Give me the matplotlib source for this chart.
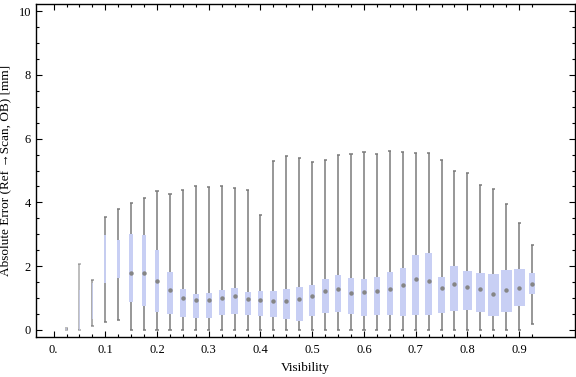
import numpy as np
import matplotlib
matplotlib.use("Agg")
import matplotlib.pyplot as plt

# Box-whisker summary per visibility bin
visibility = [0.025 * k for k in range(1, 38)]
whisker_lo = [0, 0, 0.13, 0.26, 0.31, 0, 0, 0, 0, 0,
              0, 0, 0, 0, 0, 0, 0, 0, 0, 0,
              0, 0, 0, 0, 0, 0, 0, 0, 0, 0,
              0, 0, 0, 0, 0, 0, 0.18]
q1 = [0.0, 0.0, 0.34, 1.48, 1.62, 0.89, 0.76, 0.57, 0.50, 0.42,
      0.39, 0.39, 0.48, 0.50, 0.48, 0.45, 0.41, 0.34, 0.29, 0.45,
      0.53, 0.56, 0.51, 0.45, 0.48, 0.48, 0.45, 0.48, 0.48, 0.54,
      0.60, 0.63, 0.56, 0.45, 0.56, 0.76, 1.14]
median = [0.02, 0.6, 0.9, 2.2, 2.3, 1.80, 1.78, 1.55, 1.24, 1.01,
          0.94, 0.95, 1.01, 1.07, 0.97, 0.93, 0.92, 0.92, 0.97, 1.08,
          1.23, 1.27, 1.15, 1.19, 1.22, 1.29, 1.41, 1.59, 1.53, 1.32,
          1.45, 1.36, 1.27, 1.12, 1.25, 1.33, 1.44]
q3 = [0.05, 1.25, 1.47, 2.98, 2.82, 3.00, 2.97, 2.51, 1.82, 1.29,
      1.13, 1.16, 1.25, 1.33, 1.19, 1.22, 1.22, 1.29, 1.35, 1.41,
      1.60, 1.72, 1.63, 1.60, 1.66, 1.82, 1.94, 2.35, 2.41, 1.66,
      2.00, 1.85, 1.79, 1.76, 1.88, 1.91, 1.78]
whisker_hi = [0.07, 2.07, 1.57, 3.54, 3.78, 3.99, 4.13, 4.35, 4.26, 4.38,
              4.51, 4.47, 4.51, 4.46, 4.38, 3.60, 5.29, 5.44, 5.38, 5.26,
              5.32, 5.48, 5.51, 5.57, 5.51, 5.60, 5.57, 5.54, 5.54, 5.32,
              4.97, 4.91, 4.55, 4.41, 3.95, 3.34, 2.65]
# relative sample weight of each bin (sets box width / opacity)
weight = [1, 1, 1.5, 2, 2.7, 4, 4.3, 4, 5.3, 6,
          6.5, 6, 6.3, 6.5, 6, 6, 6.3, 7.3, 7.5, 6.3,
          7, 6.3, 6, 6.3, 6.3, 6.3, 6, 7, 7, 7,
          8, 8.5, 9, 11, 11, 11, 5.3]

BOX_COLOR = "#c8cff4"
LINE_COLOR = "#7b7b7b"
SERIF = ["Liberation Serif", "DejaVu Serif"]


def plot_boxes(ax):
    x = np.array(visibility)
    w = np.array(weight)
    widths = w * 0.00193
    alphas = np.clip(0.3 + w / 3.0, 0, 1)

    for i in range(len(x)):
        ax.vlines(x[i], whisker_lo[i], whisker_hi[i], color=LINE_COLOR,
                  lw=1.1, alpha=alphas[i], zorder=1)
        ax.hlines([whisker_lo[i], whisker_hi[i]], x[i] - 0.003, x[i] + 0.003,
                  color=LINE_COLOR, lw=1.1, alpha=alphas[i], zorder=1)
        ax.bar(x[i], q3[i] - q1[i], bottom=q1[i], width=widths[i],
               color=BOX_COLOR, alpha=alphas[i], zorder=2, linewidth=0)
        if w[i] >= 4:
            ax.plot(x[i], median[i], marker="o", ms=3.2, color="#858585",
                    mec="none", zorder=3)


def style_axes(ax):
    ax.set_xlim(-0.034, 1.008)
    ax.set_ylim(-0.22, 10.22)
    ax.set_xticks([0.025 * k for k in range(0, 38)], minor=True)
    ax.set_xticks([0.1 * k for k in range(10)])
    ax.set_xticklabels(["0."] + [f"{0.1 * k:.1f}" for k in range(1, 10)])
    ax.set_yticks([0, 2, 4, 6, 8, 10])
    ax.set_yticks(np.arange(0, 10.01, 0.5), minor=True)
    ax.tick_params(which="both", direction="in", top=True, right=True,
                   labelsize=9, width=0.8, colors="black")
    ax.tick_params(which="major", length=4)
    ax.tick_params(which="minor", length=2.5)
    ax.tick_params(axis="x", which="major", length=4, pad=5)
    for lab in ax.get_xticklabels() + ax.get_yticklabels():
        lab.set_family(SERIF)
    for s in ax.spines.values():
        s.set_linewidth(1.0)
    ax.set_xlabel("Visibility", family=SERIF, fontsize=9.5, labelpad=4)
    ax.set_ylabel("Absolute Error (Ref \u2192Scan, OB) [mm]", family=SERIF,
                  fontsize=9.5, labelpad=5)


if __name__ == "__main__":
    fig = plt.figure(figsize=(5.76, 3.77), dpi=100)
    ax = fig.add_axes([36 / 576, 40 / 377, 539 / 576, 333 / 377])
    plot_boxes(ax)
    style_axes(ax)
    fig.savefig("out.png", dpi=100)
